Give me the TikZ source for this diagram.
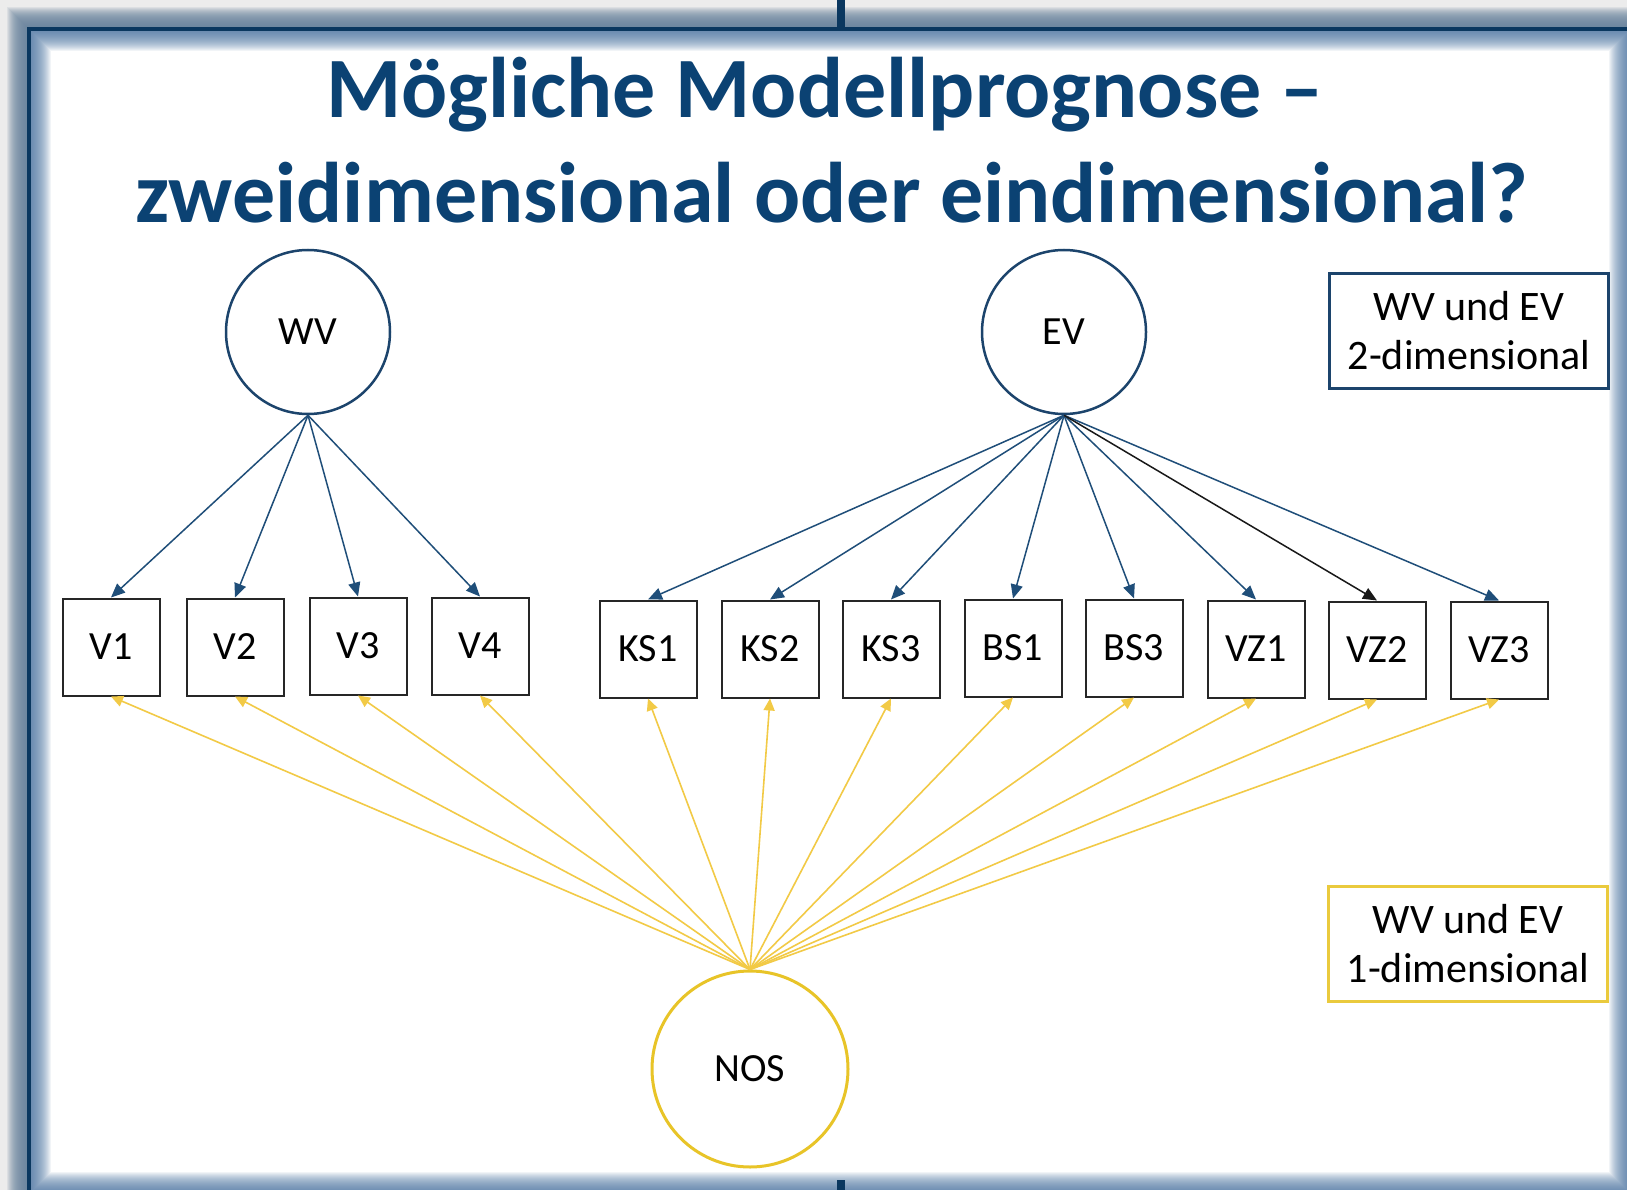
\documentclass[tikz,border=0pt]{standalone}
\usepackage{fontspec}
\setmainfont{Carlito}
\usetikzlibrary{arrows.meta}
\definecolor{titleblue}{RGB}{11,66,115}
\definecolor{frameblue}{RGB}{10,55,95}
\definecolor{shadowblue}{RGB}{105,132,158}
\definecolor{innerblue}{RGB}{80,120,165}
\definecolor{bggray}{RGB}{236,236,236}
\definecolor{arrowblue}{RGB}{31,78,121}
\definecolor{circblue}{RGB}{28,68,108}
\definecolor{goldarrow}{RGB}{242,202,70}
\definecolor{goldline}{RGB}{232,196,40}
\begin{document}
\begin{tikzpicture}[x=1pt,y=-1pt,
  latent/.style={circle, draw=circblue, line width=2.5pt, minimum size=164pt, inner sep=0pt, font=\fontsize{40}{48}\selectfont},
  nosnode/.style={circle, draw=goldline, line width=3pt, minimum size=196pt, inner sep=0pt, font=\fontsize{40}{48}\selectfont},
  obs/.style={rectangle, draw=black!85, line width=2pt, minimum width=97pt, minimum height=97pt, inner sep=0pt, font=\fontsize{40}{48}\selectfont},
  legendbox/.style={rectangle, line width=2.5pt, minimum width=279pt, minimum height=115pt, inner sep=0pt, align=center, font=\fontsize{42}{49}\selectfont},
  bluearrow/.style={draw=arrowblue, line width=1.5pt, -{Triangle[length=14pt,width=12pt]}},
  blackarrow/.style={draw=black!90, line width=1.5pt, -{Triangle[length=14pt,width=12pt]}},
  goldarr/.style={draw=goldarrow, line width=1.6pt, -{Triangle[length=12pt,width=11pt]}},
  titletext/.style={text=titleblue, font=\fontsize{86}{100}\selectfont\bfseries, anchor=base, inner sep=0pt}
]
\useasboundingbox (0,0) rectangle (1627,1190);
% background and frame
\fill[bggray] (0,0) rectangle (1627,1190);
\foreach \w in {44,42,...,2} \draw[shadowblue, line width=\w pt, opacity=0.12] (29,29) rectangle (1631,1194);
\fill[white] (31,31) rectangle (1629,1192);
\begin{scope}
  \clip (31,31) rectangle (1629,1192);
  \foreach \w in {40,38,...,2} \draw[innerblue, line width=\w pt, opacity=0.08] (31,31) rectangle (1629,1192);
\end{scope}
\draw[frameblue, line width=4pt] (29,29) rectangle (1631,1194);
\fill[frameblue] (837,0) rectangle (845,29);
\fill[frameblue] (837,1180) rectangle (845,1190);

% title
\node[titletext] (t1) at (825,118) {Mögliche Modellprognose –};
\node[titletext] (t2) at (832,223) {zweidimensional oder eindimensional?};

% latent variables
\node[latent] (WV) at (308,332) {WV};
\node[latent] (EV) at (1064,332) {EV};
\node[nosnode] (NOS) at (750,1069) {NOS};

% observed variables
\node[obs] (V1) at (111,647) {V1};
\node[obs] (V2) at (235,647) {V2};
\node[obs] (V3) at (358,646) {V3};
\node[obs] (V4) at (480,646) {V4};
\node[obs] (KS1) at (648,649) {KS1};
\node[obs] (KS2) at (770,649) {KS2};
\node[obs] (KS3) at (891,649) {KS3};
\node[obs] (BS1) at (1013,648) {BS1};
\node[obs] (BS3) at (1134,648) {BS3};
\node[obs] (VZ1) at (1256,649) {VZ1};
\node[obs] (VZ2) at (1377,650) {VZ2};
\node[obs] (VZ3) at (1499,650) {VZ3};

% legends
\node[legendbox, draw=circblue] (L2) at (1469,331) {WV und EV\\2-dimensional};
\node[legendbox, draw=goldline!90!white] (L1) at (1468,944) {WV und EV\\1-dimensional};

% WV loadings
\foreach \n in {V1,V2,V3,V4} \draw[bluearrow] (WV.south) -- (\n.north);
% EV loadings
\foreach \n in {KS1,KS2,KS3,BS1,BS3,VZ1,VZ3} \draw[bluearrow] (EV.south) -- (\n.north);
\draw[blackarrow] (EV.south) -- (VZ2.north);
% NOS loadings
\foreach \n in {V1,V2,V3,V4,KS1,KS2,KS3,BS1,BS3,VZ1,VZ2,VZ3} \draw[goldarr] (NOS.north) -- (\n.south);
\end{tikzpicture}
\end{document}
